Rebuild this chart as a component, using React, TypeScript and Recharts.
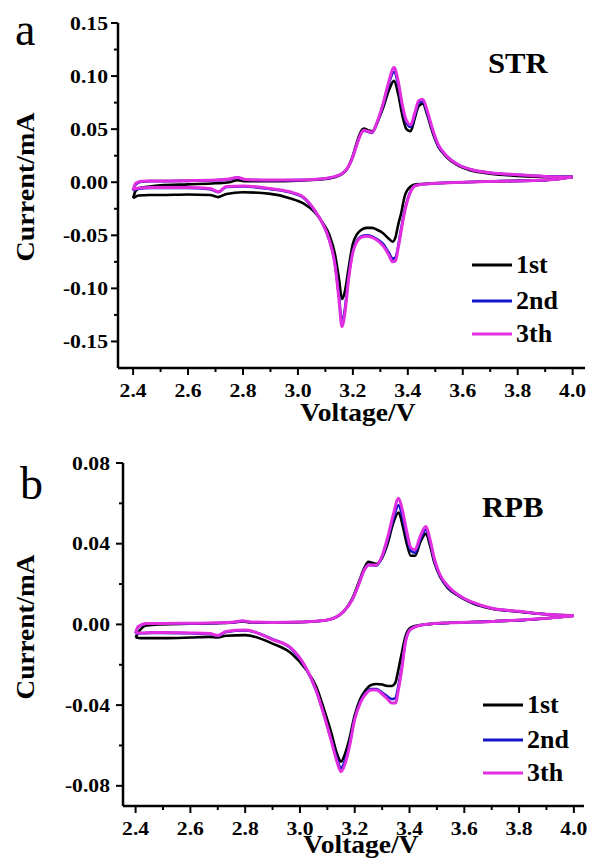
import { Line, LineChart, XAxis, YAxis } from 'recharts'

const FONT = 'Liberation Serif'
const C1 = '#000000'
const C2 = '#1414c8'
const C3 = '#e02ee0'

// ---- panel a (STR) ----
const A_UP_V = [2.4, 2.41, 2.43, 2.46, 2.5, 2.6, 2.7, 2.75, 2.78, 2.81, 2.9, 3.0, 3.08, 3.13, 3.16, 3.18, 3.2, 3.215, 3.23, 3.24, 3.255, 3.27, 3.29, 3.31, 3.33, 3.35, 3.365, 3.38, 3.395, 3.41, 3.425, 3.44, 3.455, 3.47, 3.49, 3.51, 3.54, 3.58, 3.63, 3.7, 3.8, 3.9, 4.0]
const A_UP_1 = [-0.015, -0.008, -0.005, -0.004, -0.003, -0.002, -0.001, 0.0, 0.002, 0.001, 0.001, 0.0015, 0.0025, 0.0045, 0.0075, 0.013, 0.025, 0.038, 0.048, 0.0505, 0.049, 0.048, 0.057, 0.07, 0.086, 0.0955, 0.083, 0.063, 0.05, 0.048, 0.06, 0.072, 0.074, 0.064, 0.047, 0.034, 0.024, 0.016, 0.011, 0.008, 0.006, 0.005, 0.005]
const A_UP_2 = [-0.008, -0.002, 0.0005, 0.001, 0.001, 0.0013, 0.0018, 0.0028, 0.0043, 0.0023, 0.0019, 0.002, 0.003, 0.005, 0.008, 0.013, 0.024, 0.036, 0.046, 0.0485, 0.0475, 0.0465, 0.057, 0.073, 0.092, 0.104, 0.092, 0.071, 0.056, 0.052, 0.063, 0.075, 0.076, 0.066, 0.049, 0.035, 0.025, 0.017, 0.012, 0.009, 0.007, 0.0055, 0.005]
const A_UP_3 = [-0.007, -0.001, 0.001, 0.0012, 0.0012, 0.0015, 0.002, 0.003, 0.0045, 0.0025, 0.002, 0.002, 0.003, 0.005, 0.008, 0.013, 0.024, 0.036, 0.046, 0.049, 0.048, 0.047, 0.058, 0.074, 0.094, 0.108, 0.095, 0.073, 0.058, 0.054, 0.065, 0.077, 0.078, 0.068, 0.05, 0.036, 0.025, 0.017, 0.012, 0.009, 0.007, 0.0055, 0.005]

const A_DN_V = [2.4, 2.42, 2.46, 2.5, 2.6, 2.68, 2.71, 2.74, 2.8, 2.9, 2.97, 3.02, 3.06, 3.09, 3.115, 3.135, 3.15, 3.16, 3.17, 3.185, 3.2, 3.215, 3.23, 3.25, 3.27, 3.29, 3.31, 3.33, 3.345, 3.355, 3.365, 3.375, 3.39, 3.41, 3.43, 3.5, 3.6, 3.75, 3.9, 4.0]
const A_DN_1 = [-0.015, -0.0125, -0.012, -0.012, -0.0115, -0.012, -0.014, -0.011, -0.0095, -0.011, -0.015, -0.02, -0.028, -0.038, -0.05, -0.068, -0.092, -0.11, -0.104, -0.08, -0.058, -0.049, -0.045, -0.043, -0.043, -0.045, -0.048, -0.053, -0.056, -0.052, -0.04, -0.03, -0.012, -0.004, -0.002, -0.001, 0.0, 0.001, 0.002, 0.005]
const A_DN_2 = [-0.008, -0.006, -0.0055, -0.0055, -0.0055, -0.0065, -0.0095, -0.0045, -0.004, -0.0065, -0.0095, -0.0145, -0.0265, -0.039, -0.055, -0.077, -0.109, -0.132, -0.121, -0.088, -0.065, -0.055, -0.051, -0.05, -0.051, -0.054, -0.058, -0.066, -0.072, -0.071, -0.06, -0.045, -0.025, -0.0085, -0.003, -0.001, 0.0, 0.001, 0.002, 0.005]
const A_DN_3 = [-0.007, -0.0055, -0.005, -0.005, -0.005, -0.006, -0.009, -0.004, -0.0035, -0.006, -0.009, -0.014, -0.026, -0.039, -0.055, -0.078, -0.112, -0.136, -0.125, -0.09, -0.066, -0.056, -0.052, -0.051, -0.052, -0.055, -0.06, -0.068, -0.075, -0.074, -0.062, -0.047, -0.026, -0.009, -0.003, -0.001, 0.0, 0.001, 0.002, 0.005]

// ---- panel b (RPB) ----
const B_UP_V = [2.4, 2.41, 2.44, 2.5, 2.6, 2.7, 2.76, 2.79, 2.82, 2.9, 3.0, 3.08, 3.13, 3.16, 3.19, 3.215, 3.235, 3.25, 3.265, 3.28, 3.3, 3.32, 3.34, 3.36, 3.375, 3.39, 3.405, 3.42, 3.44, 3.46, 3.475, 3.49, 3.51, 3.54, 3.58, 3.63, 3.7, 3.8, 3.9, 4.0]
const B_UP_1 = [-0.0065, -0.004, -0.0005, 0.0, 0.0003, 0.0006, 0.001, 0.0015, 0.001, 0.0009, 0.0011, 0.0018, 0.0035, 0.0065, 0.0125, 0.021, 0.028, 0.031, 0.0305, 0.03, 0.033, 0.04, 0.05, 0.0555, 0.049, 0.04, 0.034, 0.034, 0.041, 0.045, 0.039, 0.031, 0.024, 0.018, 0.014, 0.0105, 0.0078, 0.0063, 0.005, 0.0043]
const B_UP_2 = [-0.0045, -0.0012, 0.0004, 0.0004, 0.0005, 0.0007, 0.0011, 0.0017, 0.0011, 0.001, 0.0012, 0.0018, 0.0035, 0.0065, 0.012, 0.02, 0.027, 0.0295, 0.0293, 0.0292, 0.0335, 0.042, 0.052, 0.059, 0.053, 0.044, 0.0365, 0.0355, 0.0425, 0.047, 0.041, 0.032, 0.0245, 0.0185, 0.0143, 0.0108, 0.008, 0.0064, 0.005, 0.0043]
const B_UP_3 = [-0.0042, -0.001, 0.0005, 0.0005, 0.0006, 0.0008, 0.0012, 0.0018, 0.0012, 0.001, 0.0012, 0.0018, 0.0035, 0.0065, 0.012, 0.02, 0.027, 0.0295, 0.0295, 0.0295, 0.034, 0.043, 0.054, 0.0625, 0.056, 0.046, 0.038, 0.037, 0.044, 0.0485, 0.042, 0.033, 0.025, 0.019, 0.0145, 0.011, 0.008, 0.0065, 0.005, 0.0043]

const B_DN_V = [2.4, 2.42, 2.46, 2.5, 2.6, 2.67, 2.7, 2.73, 2.8, 2.9, 2.97, 3.02, 3.06, 3.09, 3.115, 3.135, 3.15, 3.165, 3.18, 3.2, 3.22, 3.24, 3.26, 3.28, 3.3, 3.32, 3.335, 3.348, 3.36, 3.372, 3.385, 3.4, 3.42, 3.46, 3.55, 3.7, 3.85, 4.0]
const B_DN_1 = [-0.0065, -0.0068, -0.0068, -0.0068, -0.0065, -0.0062, -0.0065, -0.0056, -0.0053, -0.0095, -0.0145, -0.022, -0.031, -0.043, -0.054, -0.064, -0.068, -0.064, -0.057, -0.045, -0.037, -0.0325, -0.03, -0.0295, -0.0298, -0.0305, -0.0305, -0.029, -0.022, -0.014, -0.006, -0.002, -0.0008, 0.0, 0.0008, 0.0015, 0.0025, 0.0043]
const B_DN_2 = [-0.0045, -0.0044, -0.0042, -0.0042, -0.0044, -0.0047, -0.0057, -0.0037, -0.003, -0.0073, -0.0123, -0.0212, -0.0332, -0.0458, -0.0575, -0.0665, -0.0712, -0.0672, -0.06, -0.0465, -0.0385, -0.034, -0.032, -0.032, -0.0338, -0.0358, -0.037, -0.0365, -0.03, -0.021, -0.0085, -0.003, -0.0012, 0.0, 0.0008, 0.0015, 0.0025, 0.0043]
const B_DN_3 = [-0.0042, -0.0042, -0.004, -0.004, -0.0042, -0.0045, -0.0055, -0.0035, -0.0028, -0.0075, -0.012, -0.021, -0.033, -0.046, -0.058, -0.068, -0.073, -0.069, -0.061, -0.047, -0.039, -0.0345, -0.0325, -0.0325, -0.0345, -0.037, -0.039, -0.039, -0.032, -0.022, -0.009, -0.003, -0.0012, 0.0, 0.0008, 0.0015, 0.0025, 0.0043]

const X_MAJOR = [2.4, 2.6, 2.8, 3.0, 3.2, 3.4, 3.6, 3.8, 4.0]
const X_MINOR = [2.5, 2.7, 2.9, 3.1, 3.3, 3.5, 3.7, 3.9]
const A_Y_MAJOR = [-0.15, -0.1, -0.05, 0, 0.05, 0.1, 0.15]
const A_Y_MINOR = [-0.125, -0.075, -0.025, 0.025, 0.075, 0.125]
const B_Y_MAJOR = [-0.08, -0.04, 0, 0.04, 0.08]
const B_Y_MINOR = [-0.06, -0.02, 0.02, 0.06]

const CYCLES = ['1st', '2nd', '3th']
const COLORS = [C1, C2, C3]

const pts = (v: number[], i: number[]) => v.map((x, k) => ({ v: x, i: i[k] }))
const isMajor = (val: number, majors: number[]) => majors.some((m) => Math.abs(m - val) < 1e-9)

function SText({ x, y, size, sx = 1, anchor = 'start', weight = 'bold', rotate = 0, children }: any) {
  return (
    <text
      transform={`translate(${x},${y}) rotate(${rotate}) scale(${sx},1)`}
      textAnchor={anchor}
      fill="#000"
      style={{ fontFamily: FONT, fontSize: size, fontWeight: weight }}
    >
      {children}
    </text>
  )
}

const xTick = (majors: number[]) => (p: any) => {
  const major = isMajor(p.payload.value, majors)
  return (
    <g>
      <line x1={p.x} x2={p.x} y1={p.y} y2={p.y + (major ? 7 : 4)} stroke="#000" strokeWidth={2} />
      {major && (
        <SText x={p.x} y={p.y + 29} size={19} sx={1.14} anchor="middle">
          {p.payload.value.toFixed(1)}
        </SText>
      )}
    </g>
  )
}

const yTick = (majors: number[], gap: number) => (p: any) => {
  const major = isMajor(p.payload.value, majors)
  const v = Math.abs(p.payload.value) < 1e-9 ? 0 : p.payload.value
  return (
    <g>
      <line x1={p.x} x2={p.x - (major ? 7 : 4)} y1={p.y} y2={p.y} stroke="#000" strokeWidth={2} />
      {major && (
        <SText x={p.x - gap} y={p.y + 6.5} size={19} sx={1.14} anchor="end">
          {v.toFixed(2)}
        </SText>
      )}
    </g>
  )
}

const AXIS = { stroke: '#000', strokeWidth: 2.5 }

function Panel({ height, margin, xDomain, yDomain, yMajor, yMinor, gap, series }: any) {
  return (
    <LineChart width={589} height={height} margin={margin}>
      <XAxis
        type="number"
        dataKey="v"
        domain={xDomain}
        allowDataOverflow
        ticks={[...X_MAJOR, ...X_MINOR]}
        interval={0}
        tick={xTick(X_MAJOR)}
        tickLine={false}
        tickSize={0}
        tickMargin={0}
        axisLine={AXIS}
        height={40}
      />
      <XAxis xAxisId="top" orientation="top" type="number" domain={xDomain} allowDataOverflow tick={false} tickLine={false} axisLine={AXIS} height={0} />
      <YAxis
        type="number"
        domain={yDomain}
        allowDataOverflow
        ticks={[...yMajor, ...yMinor]}
        interval={0}
        tick={yTick(yMajor, gap)}
        tickLine={false}
        tickSize={0}
        tickMargin={0}
        axisLine={AXIS}
        width={60}
      />
      <YAxis yAxisId="right" orientation="right" type="number" domain={yDomain} allowDataOverflow tick={false} tickLine={false} axisLine={AXIS} width={0} />
      {series.map((s: any, k: number) => (
        <Line
          key={k}
          data={s.data}
          dataKey="i"
          type="monotone"
          stroke={s.color}
          strokeWidth={s.color === C3 ? 3 : 2.6}
          dot={false}
          isAnimationActive={false}
        />
      ))}
    </LineChart>
  )
}

const A_SERIES = [
  { color: C1, data: pts(A_UP_V, A_UP_1) },
  { color: C1, data: pts(A_DN_V, A_DN_1) },
  { color: C2, data: pts(A_UP_V, A_UP_2) },
  { color: C2, data: pts(A_DN_V, A_DN_2) },
  { color: C3, data: pts(A_UP_V, A_UP_3) },
  { color: C3, data: pts(A_DN_V, A_DN_3) },
]
const B_SERIES = [
  { color: C1, data: pts(B_UP_V, B_UP_1) },
  { color: C1, data: pts(B_DN_V, B_DN_1) },
  { color: C2, data: pts(B_UP_V, B_UP_2) },
  { color: C2, data: pts(B_DN_V, B_DN_2) },
  { color: C3, data: pts(B_UP_V, B_UP_3) },
  { color: C3, data: pts(B_DN_V, B_DN_3) },
]

function Legend({ x, ys }: { x: number; ys: number[] }) {
  return (
    <g>
      {CYCLES.map((c, k) => (
        <g key={c}>
          <line x1={x} x2={x + 40} y1={ys[k]} y2={ys[k]} stroke={COLORS[k]} strokeWidth={3} />
          <SText x={x + 44} y={ys[k] + 8} size={25} sx={1.04}>
            {c}
          </SText>
        </g>
      ))}
    </g>
  )
}

export default function App() {
  return (
    <div style={{ position: 'absolute', left: 0, top: 0, width: 589, height: 858, background: '#fff', fontFamily: FONT }}>
      <div style={{ position: 'absolute', left: 0, top: 0 }}>
        <Panel
          height={430}
          margin={{ top: 23, right: 4, bottom: 22, left: 58 }}
          xDomain={[2.345, 4.045]}
          yDomain={[-0.175, 0.15]}
          yMajor={A_Y_MAJOR}
          yMinor={A_Y_MINOR}
          gap={10}
          series={A_SERIES}
        />
      </div>
      <div style={{ position: 'absolute', left: 0, top: 440 }}>
        <Panel
          height={418}
          margin={{ top: 23, right: 5, bottom: 12, left: 63 }}
          xDomain={[2.354, 4.037]}
          yDomain={[-0.09, 0.08]}
          yMajor={B_Y_MAJOR}
          yMinor={B_Y_MINOR}
          gap={13}
          series={B_SERIES}
        />
      </div>
      <svg width={589} height={858} style={{ position: 'absolute', left: 0, top: 0, pointerEvents: 'none' }}>
        <SText x={15} y={45} size={46} weight="normal">a</SText>
        <SText x={20} y={499} size={46} weight="normal">b</SText>
        <SText x={34} y={187} size={26} sx={1.08} rotate={-90} anchor="middle">Current/mA</SText>
        <SText x={34} y={627} size={26} sx={1.05} rotate={-90} anchor="middle">Current/mA</SText>
        <SText x={358} y={421} size={26} sx={1.06} anchor="middle">Voltage/V</SText>
        <SText x={361} y={853} size={26} sx={1.06} anchor="middle">Voltage/V</SText>
        <SText x={488} y={73} size={29} sx={1.06}>STR</SText>
        <SText x={482} y={517} size={29} sx={1.06}>RPB</SText>
        <Legend x={472} ys={[265, 301, 334]} />
        <Legend x={483} ys={[705, 740, 773]} />
      </svg>
    </div>
  )
}
